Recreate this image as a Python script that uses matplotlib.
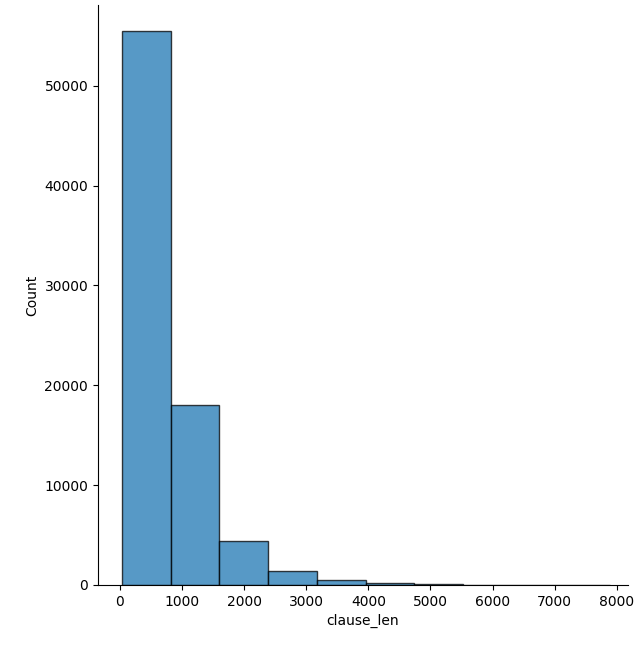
import numpy as np
import matplotlib
matplotlib.use("Agg")
import matplotlib.pyplot as plt

bin_edges = [32, 817, 1602, 2387, 3172, 3957, 4742, 5527, 6312, 7097, 7882]
counts = [55500, 18000, 4450, 1420, 480, 150, 100, 30, 20, 10]

fig = plt.figure(figsize=(6.4, 6.69), dpi=100)
ax = fig.add_axes([0.153, 0.1256, 0.828, 0.867])
edges = np.array(bin_edges)
ax.bar(edges[:-1], counts, width=np.diff(edges), align="edge",
       color="#1f77b4", alpha=0.75, edgecolor="black", linewidth=1)
ax.set_xlim(-354, 8177)
ax.set_ylim(0, 58100)
ax.set_xticks(range(0, 8001, 1000))
ax.set_yticks(range(0, 50001, 10000))
ax.set_xlabel("clause_len")
ax.set_ylabel("Count")
ax.spines["top"].set_visible(False)
ax.spines["right"].set_visible(False)
fig.savefig("out.png", dpi=100)
